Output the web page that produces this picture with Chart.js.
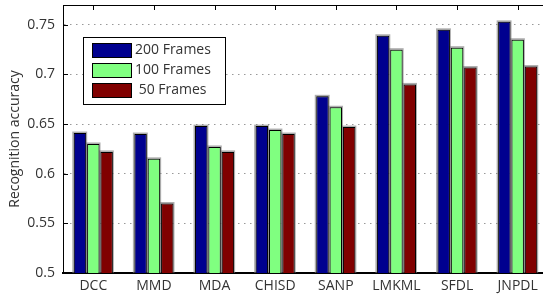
<!DOCTYPE html>
<html>
<head>
<meta charset="utf-8">
<script src="https://cdn.jsdelivr.net/npm/chart.js@4.4.1/dist/chart.umd.min.js"></script>
<style>
  html, body { margin: 0; padding: 0; background: #fff; overflow: hidden; }
  #wrap { width: 560px; height: 297px; position: relative; }
</style>
</head>
<body>
<div id="wrap"><canvas id="myChart"></canvas></div>
<script>
// data
const methods = ['DCC', 'MMD', 'MDA', 'CHISD', 'SANP', 'LMKML', 'SFDL', 'JNPDL'];
const frames200 = [0.641, 0.640, 0.648, 0.648, 0.678, 0.739, 0.745, 0.753];
const frames100 = [0.630, 0.615, 0.627, 0.644, 0.667, 0.725, 0.727, 0.735];
const frames50 = [0.622, 0.570, 0.622, 0.640, 0.647, 0.690, 0.707, 0.708];
const seriesNames = ['200 Frames', '100 Frames', ' 50 Frames'];
const yTicks = [0.5, 0.55, 0.6, 0.65, 0.7, 0.75];
const yTickLabels = ['0.5', '0.55', '0.6', '0.65', '0.7', '0.75'];

const font = '"Open Sans", "DejaVu Sans", sans-serif';
const textColor = '#333';

// soft grey edge round every bar, like the original print
const halo = {
  id: 'halo',
  beforeDatasetsDraw(chart) {
    const ctx = chart.ctx;
    const bottom = chart.chartArea.bottom;
    ctx.save();
    ctx.fillStyle = 'rgba(120,120,120,0.6)';
    chart.data.datasets.forEach((ds, i) => {
      chart.getDatasetMeta(i).data.forEach(bar => {
        const p = bar.getProps(['x', 'y', 'base', 'width'], true);
        const b = Math.min(p.base, bottom);
        ctx.fillRect(p.x - p.width / 2 - 1.5, p.y - 1.5, p.width + 2.5, b - p.y + 1.5);
      });
    });
    ctx.restore();
  }
};

// box around the axes, inward tick marks, and the legend box
const frame = {
  id: 'frame',
  afterDraw(chart) {
    const ctx = chart.ctx;
    const a = chart.chartArea;
    const x = chart.scales.x, y = chart.scales.y;
    ctx.save();
    ctx.strokeStyle = '#000';
    ctx.lineWidth = 1;
    ctx.beginPath();
    ctx.moveTo(a.left, a.top + 0.5);
    ctx.lineTo(a.right, a.top + 0.5);
    ctx.moveTo(a.right - 0.5, a.top);
    ctx.lineTo(a.right - 0.5, a.bottom);
    // top ticks at the categories
    methods.forEach((m, i) => {
      const px = Math.round(x.getPixelForTick(i)) + 0.5;
      ctx.moveTo(px, a.top);
      ctx.lineTo(px, a.top + 5);
    });
    // left ticks at the y values
    yTicks.forEach(v => {
      const py = Math.round(y.getPixelForValue(v)) + 0.5;
      ctx.moveTo(a.left, py);
      ctx.lineTo(a.left + 5, py);
    });
    ctx.stroke();

    // legend
    const lx = a.left + 20, ly = a.top + 32, lw = 142, lh = 67;
    ctx.fillStyle = '#fff';
    ctx.fillRect(lx, ly, lw, lh);
    ctx.strokeRect(lx + 0.5, ly + 0.5, lw, lh);
    ctx.font = '14px ' + font;
    ctx.textBaseline = 'middle';
    chart.data.datasets.forEach((ds, i) => {
      const ry = ly + 6 + i * 20;
      ctx.fillStyle = ds.backgroundColor;
      ctx.fillRect(lx + 9, ry, 39, 14);
      ctx.strokeStyle = '#000';
      ctx.strokeRect(lx + 9.5, ry + 0.5, 39, 14);
      ctx.fillStyle = textColor;
      ctx.fillText(ds.label, lx + 52, ry + 7.5);
    });
    ctx.restore();
  }
};

function noPadding(scale) {
  scale.paddingTop = 0;
  scale.paddingBottom = 0;
  scale.paddingLeft = 0;
  scale.paddingRight = 0;
}

new Chart(document.getElementById('myChart'), {
  type: 'bar',
  data: {
    labels: methods,
    datasets: [
      { label: seriesNames[0], data: frames200, backgroundColor: '#00008F' },
      { label: seriesNames[1], data: frames100, backgroundColor: '#80FF80' },
      { label: seriesNames[2], data: frames50, backgroundColor: '#800000' }
    ]
  },
  options: {
    responsive: true,
    maintainAspectRatio: false,
    animation: false,
    layout: { padding: { top: 5, right: 12, left: 0, bottom: 0 } },
    datasets: {
      bar: {
        borderColor: '#000',
        borderWidth: 1,
        borderSkipped: false,
        categoryPercentage: 0.66,
        barPercentage: 0.93
      }
    },
    plugins: {
      legend: { display: false },
      tooltip: { enabled: false }
    },
    scales: {
      x: {
        grid: { display: false, drawTicks: false },
        border: { display: true, color: '#000', width: 2 },
        ticks: { color: textColor, font: { family: font, size: 14 }, padding: 5 },
        afterFit(scale) { scale.height = 24; noPadding(scale); }
      },
      y: {
        min: 0.5,
        max: 0.77,
        grid: { color: '#999', drawTicks: false, lineWidth: 1 },
        border: { display: true, color: '#000', width: 1, dash: [1.5, 4.5] },
        ticks: {
          color: textColor,
          font: { family: font, size: 14 },
          padding: 8,
          callback: (v) => yTickLabels[yTicks.indexOf(v)]
        },
        afterBuildTicks(scale) { scale.ticks = yTicks.map(v => ({ value: v })); },
        afterFit(scale) { scale.width = 63; noPadding(scale); },
        title: {
          display: true,
          text: 'Recognition accuracy',
          color: textColor,
          font: { family: font, size: 14 },
          padding: { top: 7, bottom: 0 }
        }
      }
    }
  },
  plugins: [halo, frame]
});
</script>
</body>
</html>
